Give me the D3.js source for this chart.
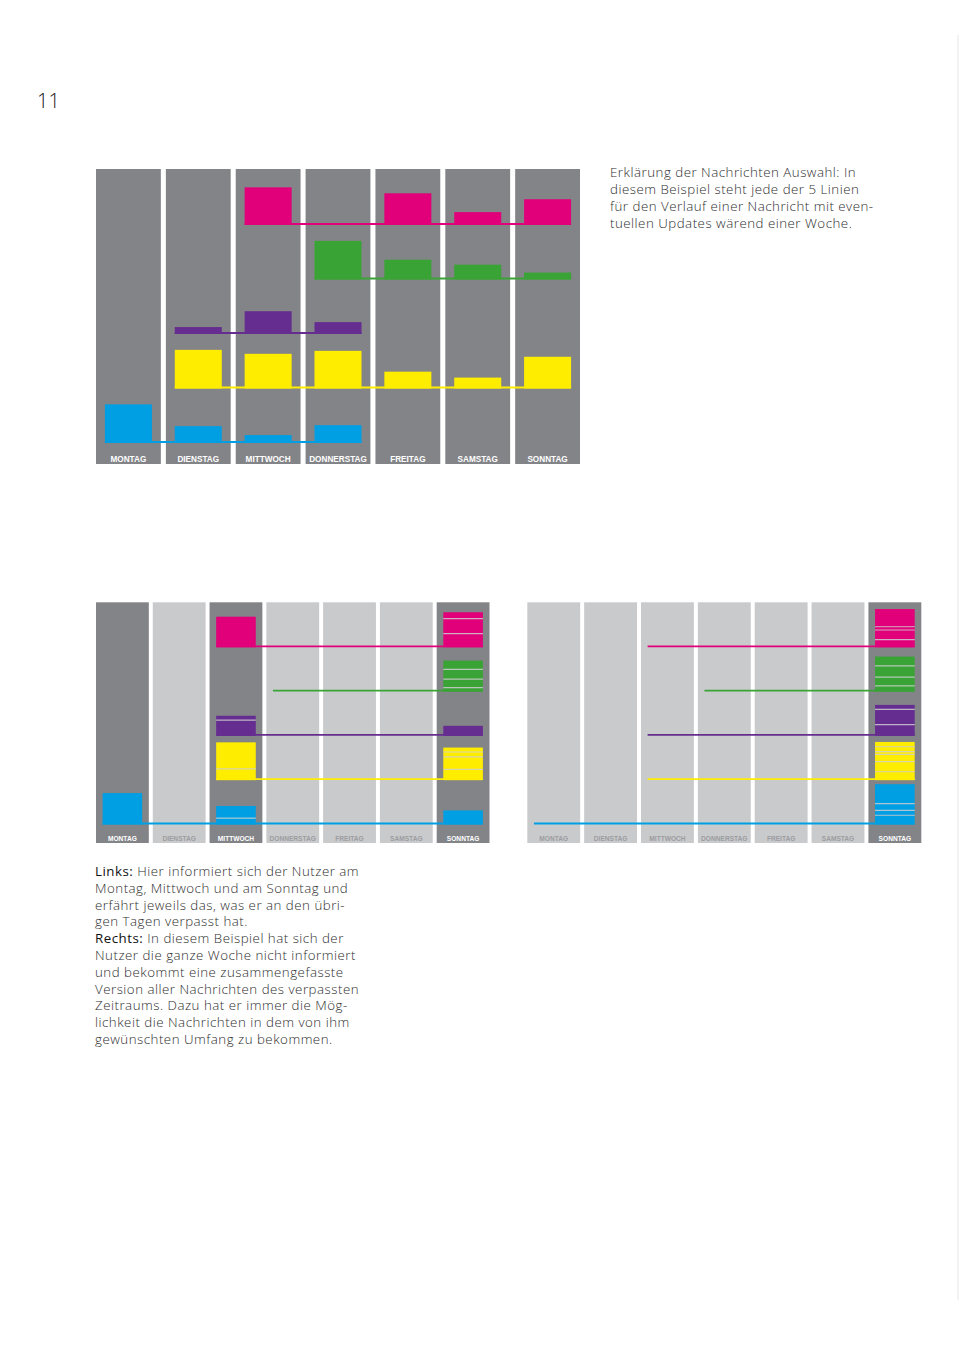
<!DOCTYPE html>
<html lang="de">
<head>
<meta charset="utf-8">
<title>Nachrichten Auswahl</title>
<style>
  body { margin: 0; background: #fff; }
  svg { display: block; }
  .txt { font-family: "Open Sans", "DejaVu Sans", sans-serif; font-weight: 300; fill: #2e2e2e; letter-spacing: 0.5px; }
  .lbl { font-family: "Liberation Sans", Arial, sans-serif; font-weight: bold; }
</style>
</head>
<body>
<svg id="page" width="959" height="1357"></svg>
<script src="https://d3js.org/d3.v7.min.js"></script>
<script>
// Wochentage
var days = ["MONTAG", "DIENSTAG", "MITTWOCH", "DONNERSTAG", "FREITAG", "SAMSTAG", "SONNTAG"];
// 5 Nachrichten (Linien), von oben nach unten
var series = ["n1", "n2", "n3", "n4", "n5"];
var colors = ["#e2007a", "#3aa335", "#662d91", "#ffed00", "#009fe3"];

// oben: Relevanz je Tag (0 = keine Meldung)
var topMagenta = [0, 0, 38, 0, 32, 13, 26];
var topGreen   = [0, 0, 0, 39, 20, 15, 7];
var topPurple  = [0, 7, 23, 12, 0, 0, 0];
var topYellow  = [0, 39, 35, 38, 17, 11, 32];
var topBlue    = [39, 17, 8, 18, 0, 0, 0];

// unten links: Nutzer informiert sich Mo, Mi, So (gestapelte Updates, von unten nach oben)
var leftActive  = ["MONTAG", "MITTWOCH", "SONNTAG"];
var leftMagenta = [[], [], [38], [], [], [], [17, 18.5, 8]];
var leftGreen   = [[], [], [], [], [], [], [5, 10.5, 12, 11]];
var leftPurple  = [[], [], [19.5, 5.5], [], [], [], [12.5]];
var leftYellow  = [[], [], [14, 33], [], [], [], [13.5, 15.5, 6, 5.5]];
var leftBlue    = [[39], [], [8, 15], [], [], [], [17.5]];

// unten rechts: nur Sonntag
var rightActive  = ["SONNTAG"];
var rightMagenta = [[], [], [], [], [], [], [9.5, 12, 4, 22]];
var rightGreen   = [[], [], [], [], [], [], [7, 11, 14, 11.5]];
var rightPurple  = [[], [], [], [], [], [], [14, 19, 5.5]];
var rightYellow  = [[], [], [], [], [], [], [10.5, 12.5, 9, 3.5, 6, 6]];
var rightBlue    = [[], [], [], [], [], [], [11.5, 6, 8.5, 24]];
// erster Tag der Linie (unten)
var lineStart = ["MITTWOCH", "DONNERSTAG", "MITTWOCH", "MITTWOCH", "MONTAG"];

var svg = d3.select("#page");
var dark = "#838488", light = "#c9cacc";

// feine Randlinie rechts
svg.append("line").attr("x1", 958).attr("x2", 958).attr("y1", 35).attr("y2", 1300)
    .attr("stroke", "#e6e6e6").attr("stroke-width", 1);

svg.append("text").attr("class", "txt").attr("x", 37).attr("y", 108)
    .attr("font-size", 20).style("fill", "#111").style("letter-spacing", "0px").text("11");

function columns(g, x, top, bottom, activeDays, fontSize) {
    var col = g.append("g").selectAll("g").data(days).enter().append("g");
    col.append("rect")
        .attr("x", function(d) { return x(d); })
        .attr("y", top)
        .attr("width", x.bandwidth())
        .attr("height", bottom - top)
        .attr("fill", function(d) { return activeDays.indexOf(d) >= 0 ? dark : light; });
    col.append("text")
        .attr("class", "lbl")
        .attr("x", function(d) { return x(d) + x.bandwidth() / 2; })
        .attr("y", bottom - fontSize * 0.3)
        .attr("text-anchor", "middle")
        .attr("font-size", fontSize)
        .attr("fill", function(d) { return activeDays.indexOf(d) >= 0 ? "#fff" : "#9c9da0"; })
        .text(function(d) { return d; });
}

// ---------- oben ----------
(function() {
    var g = svg.append("g");
    var x = d3.scaleBand().domain(days).range([96, 580]).paddingInner(0.072).paddingOuter(0);
    var y = d3.scalePoint().domain(series).range([225, 443]);
    var step = y.step();
    var h = d3.scaleLinear().domain([0, 55]).range([0, step]);
    var barW = x.bandwidth() * 0.725, inset = (x.bandwidth() - barW) / 2;

    columns(g, x, 169, 464, days, 8.2);

    var data = [topMagenta, topGreen, topPurple, topYellow, topBlue];
    data.forEach(function(vals, i) {
        var key = series[i];
        var used = days.filter(function(d, j) { return vals[j] > 0; });
        g.append("line")
            .attr("x1", x(used[0]) + inset)
            .attr("x2", x(used[used.length - 1]) + inset + barW)
            .attr("y1", y(key) - 1).attr("y2", y(key) - 1)
            .attr("stroke", colors[i]).attr("stroke-width", 2);
        g.selectAll(null).data(used).enter()
            .append("rect")
            .attr("x", function(d) { return x(d) + inset; })
            .attr("width", barW)
            .attr("y", function(d) { return y(key) - h(vals[days.indexOf(d)]); })
            .attr("height", function(d) { return h(vals[days.indexOf(d)]); })
            .attr("fill", colors[i]);
    });
})();

// ---------- unten ----------
function stackedChart(x0, x1, activeDays, data) {
    var g = svg.append("g");
    var x = d3.scaleBand().domain(days).range([x0, x1]).paddingInner(0.07).paddingOuter(0);
    var y = d3.scalePoint().domain(series).range([647.3, 824.5]);
    var h = d3.scaleLinear().domain([0, 55]).range([0, y.step()]);
    var barW = x.bandwidth() * 0.75, inset = (x.bandwidth() - barW) / 2;

    columns(g, x, 602.3, 843, activeDays, 6.6);

    data.forEach(function(stacks, i) {
        var key = series[i];
        g.append("line")
            .attr("x1", x(lineStart[i]) + inset)
            .attr("x2", x("SONNTAG") + inset + barW)
            .attr("y1", y(key) - 1).attr("y2", y(key) - 1)
            .attr("stroke", colors[i]).attr("stroke-width", 1.8);
        stacks.forEach(function(segs, j) {
            if (!segs.length) return;
            var base = y(key);
            segs.forEach(function(v, k) {
                var top = base - h(v);
                g.append("rect")
                    .attr("x", x(days[j]) + inset).attr("width", barW)
                    .attr("y", top).attr("height", h(v))
                    .attr("fill", colors[i]);
                if (k > 0) {
                    g.append("line")
                        .attr("x1", x(days[j]) + inset).attr("x2", x(days[j]) + inset + barW)
                        .attr("y1", base).attr("y2", base)
                        .attr("stroke", "#d2d2d5").attr("stroke-opacity", 0.8).attr("stroke-width", 1.2);
                }
                base = top;
            });
        });
    });
}

stackedChart(96, 489.5, leftActive, [leftMagenta, leftGreen, leftPurple, leftYellow, leftBlue]);
stackedChart(527.3, 921.3, rightActive, [rightMagenta, rightGreen, rightPurple, rightYellow, rightBlue]);

// ---------- Texte ----------
var infoLines = [
    "Erklärung der Nachrichten Auswahl: In",
    "diesem Beispiel steht jede der 5 Linien",
    "für den Verlauf einer Nachricht mit even-",
    "tuellen Updates wärend einer Woche."
];
svg.append("g").selectAll("text").data(infoLines).enter().append("text")
    .attr("class", "txt").attr("font-size", 13.3)
    .attr("x", 610).attr("y", function(d, i) { return 177 + i * 17; })
    .text(function(d) { return d; });

var noteLines = [
    ["Links:", " Hier informiert sich der Nutzer am"],
    ["", "Montag, Mittwoch und am Sonntag und"],
    ["", "erfährt jeweils das, was er an den übri-"],
    ["", "gen Tagen verpasst hat."],
    ["Rechts:", " In diesem Beispiel hat sich der"],
    ["", "Nutzer die ganze Woche nicht informiert"],
    ["", "und bekommt eine zusammengefasste"],
    ["", "Version aller Nachrichten des verpassten"],
    ["", "Zeitraums. Dazu hat er immer die Mög-"],
    ["", "lichkeit die Nachrichten in dem von ihm"],
    ["", "gewünschten Umfang zu bekommen."]
];
var note = svg.append("g").selectAll("text").data(noteLines).enter().append("text")
    .attr("class", "txt").attr("font-size", 13.3)
    .attr("x", 95).attr("y", function(d, i) { return 876 + i * 16.8; });
note.append("tspan").style("font-weight", 400).style("fill", "#111").text(function(d) { return d[0]; });
note.append("tspan").text(function(d) { return d[1]; });
</script>
</body>
</html>
